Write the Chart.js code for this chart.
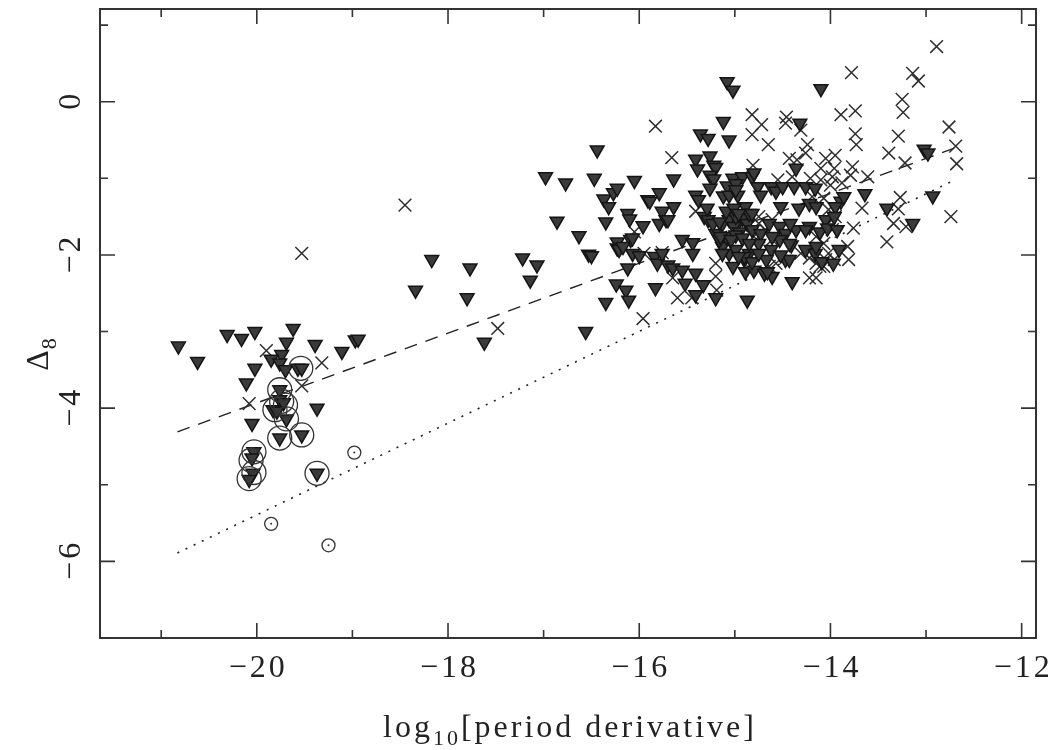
<!DOCTYPE html>
<html>
<head>
<meta charset="utf-8">
<script src="https://cdn.jsdelivr.net/npm/chart.js@4.4.0/dist/chart.umd.min.js"></script>
<style>
  html, body { margin: 0; padding: 0; background: #fff; }
</style>
</head>
<body>
<canvas id="myChart" width="1060" height="750"></canvas>
<script>
// downward triangles
const triangles = [
  [-20.82,-3.19],[-20.62,-3.39],[-20.31,-3.04],[-20.16,-3.09],[-20.02,-3.00],[-19.62,-2.96],[-19.69,-3.14],
  [-19.39,-3.17],[-19.11,-3.26],[-18.97,-3.11],[-18.94,-3.10],[-19.74,-3.30],[-19.85,-3.36],[-19.76,-3.41],
  [-19.70,-3.50],[-20.02,-3.48],[-19.57,-3.48],[-19.53,-3.48],[-20.11,-3.67],[-19.76,-3.76],[-19.76,-3.89],
  [-19.72,-3.93],[-19.83,-4.02],[-19.79,-4.04],[-19.69,-4.14],[-20.05,-4.20],[-19.37,-4.00],[-19.76,-4.39],
  [-19.53,-4.35],[-20.03,-4.57],[-20.05,-4.65],[-20.04,-4.85],[-20.08,-4.93],[-19.37,-4.85],
  [-16.44,-0.63],[-16.98,-0.98],[-16.77,-1.06],[-16.47,-1.00],[-16.37,-1.27],[-16.32,-1.37],[-16.27,-1.19],
  [-16.23,-1.13],[-16.86,-1.56],[-16.35,-1.57],[-16.63,-1.75],[-16.53,-1.99],[-16.50,-2.01],[-16.23,-1.83],
  [-16.23,-1.91],[-18.17,-2.06],[-17.77,-2.17],[-18.34,-2.46],[-17.80,-2.56],[-17.22,-2.04],[-17.07,-2.13],
  [-17.14,-2.33],[-16.35,-2.62],[-16.24,-2.38],[-16.56,-3.00],[-17.62,-3.14],
  [-15.08,0.26],[-15.02,0.15],[-14.10,0.17],[-15.12,-0.26],[-14.32,-0.28],[-15.36,-0.42],[-15.28,-0.48],
  [-15.06,-0.50],[-14.36,-0.87],[-15.41,-0.75],[-15.39,-0.88],[-15.26,-0.71],[-15.22,-0.83],[-15.20,-0.86],
  [-15.26,-0.96],[-15.22,-1.01],[-16.05,-1.03],[-15.64,-1.01],[-15.02,-1.00],[-14.92,-0.98],[-14.82,-0.98],
  [-14.80,-0.93],[-15.08,-1.10],[-14.99,-1.07],[-15.26,-1.13],[-15.41,-1.22],[-15.38,-1.28],[-15.12,-1.23],
  [-15.06,-1.22],[-14.97,-1.22],[-14.76,-1.11],[-14.73,-1.22],[-14.62,-1.11],[-14.57,-1.17],[-14.50,-1.11],
  [-14.38,-1.11],[-14.26,-1.11],[-14.16,-1.13],[-15.91,-1.28],[-15.89,-1.30],[-15.79,-1.19],[-15.76,-1.43],
  [-15.64,-1.37],[-16.12,-1.46],[-16.10,-1.53],[-15.96,-1.62],[-15.79,-1.59],[-15.72,-1.54],[-16.09,-1.80],
  [-16.21,-1.93],[-16.07,-1.98],[-16.00,-2.01],[-15.84,-2.02],[-15.81,-2.11],[-15.76,-1.98],[-16.12,-2.17],
  [-15.70,-2.13],[-15.65,-2.17],[-15.55,-2.20],[-15.55,-1.80],[-15.44,-1.84],[-15.44,-1.98],[-15.41,-2.24],
  [-16.14,-2.46],[-16.11,-2.59],[-15.83,-2.43],[-15.52,-2.37],[-15.33,-2.39],[-15.20,-2.56],[-14.87,-2.59],
  [-15.32,-1.50],[-15.28,-1.54],[-15.20,-1.72],[-15.13,-1.59],[-15.06,-1.54],[-14.99,-1.63],[-14.92,-1.52],
  [-14.87,-1.59],[-14.82,-1.67],[-14.73,-1.72],[-15.13,-1.89],[-15.06,-1.98],[-14.99,-1.93],[-15.09,-1.76],
  [-15.02,-2.15],[-14.90,-2.06],[-14.85,-1.98],[-14.89,-2.22],[-14.80,-2.20],[-14.69,-2.24],[-14.61,-2.28],
  [-14.66,-2.22],[-14.40,-2.35],[-14.64,-1.59],[-14.53,-1.63],[-14.47,-1.72],[-14.36,-1.67],[-14.53,-1.80],
  [-14.41,-1.87],[-14.52,-1.37],[-14.33,-1.39],[-14.22,-1.33],[-14.15,-1.37],[-14.75,-1.85],[-14.62,-1.93],
  [-14.67,-2.06],[-14.47,-2.06],[-14.61,-1.76],[-14.22,-1.63],[-14.11,-1.70],[-14.05,-1.54],[-14.26,-1.93],
  [-14.16,-1.98],[-14.09,-2.09],[-14.43,-2.06],[-14.42,-1.59],[-14.26,-1.67],[-14.43,-1.85],[-14.52,-2.00],
  [-14.15,-1.89],[-14.89,-1.37],[-14.85,-1.46],[-15.01,-1.63],[-14.95,-1.70],[-14.90,-2.02],[-14.99,-1.15],
  [-15.70,-1.54],[-15.29,-1.39],[-15.23,-1.59],[-15.16,-1.57],[-14.99,-1.50],[-15.16,-1.80],[-15.13,-1.98],
  [-14.99,-1.74],[-16.07,-1.78],[-16.17,-1.89],[-15.41,-2.52],[-14.03,-1.65],
  [-15.09,-1.43],[-15.01,-1.39],[-14.96,-1.46],[-14.82,-1.46],[-15.15,-1.76],[-15.04,-1.80],[-14.92,-1.78],
  [-14.85,-1.85],[-14.96,-2.02],[-14.82,-2.09],[-14.75,-1.98],
  [-13.02,-0.62],[-12.98,-0.67],[-13.64,-1.20],[-13.89,-1.30],[-13.86,-1.24],[-13.95,-1.37],[-13.41,-1.39],
  [-13.14,-1.59],[-12.93,-1.23],[-13.96,-1.50],[-13.93,-1.67],[-13.91,-1.93],[-13.97,-2.11]
];

// crosses
const crosses = [
  [-19.90,-3.25],[-19.32,-3.41],[-19.53,-3.71],[-20.08,-3.94],[-19.53,-1.98],[-18.45,-1.35],[-17.48,-2.96],
  [-15.83,-0.32],[-14.82,-0.17],[-14.72,-0.30],[-14.82,-0.43],[-14.65,-0.56],[-14.46,-0.20],[-14.47,-0.28],
  [-14.31,-0.37],[-14.24,-0.56],[-14.26,-0.67],[-14.43,-0.74],[-14.35,-0.76],[-14.10,-0.87],[-14.05,-0.74],
  [-15.66,-0.73],[-14.81,-0.83],[-14.55,-1.02],[-14.40,-0.98],[-14.21,-1.00],[-14.10,-1.02],[-16.05,-1.70],
  [-15.95,-1.98],[-15.76,-1.97],[-15.65,-2.30],[-15.60,-2.56],[-15.45,-2.56],[-15.96,-2.83],[-15.41,-1.43],
  [-15.20,-2.11],[-15.20,-2.28],[-15.19,-2.46],[-14.22,-2.30],[-14.15,-2.30],
  [-13.96,-0.87],[-14.00,-1.09],[-14.19,-1.24],[-14.07,-1.26],[-14.02,-1.41],[-13.95,-1.50],[-14.05,-1.59],
  [-13.98,-1.67],[-14.15,-1.76],[-14.07,-1.85],[-14.02,-1.98],[-13.96,-2.06],[-14.15,-2.11],[-14.07,-2.15],
  [-14.64,-2.15],[-14.57,-2.11],[-14.75,-1.76],[-14.61,-1.80],[-14.75,-1.50],[-14.61,-1.54],[-14.75,-1.59],
  [-14.68,-1.67],[-14.80,-1.76],[-14.31,-1.98],[-14.22,-2.04],[-14.11,-2.15],[-14.05,-2.06],
  [-13.78,0.38],[-13.14,0.37],[-13.08,0.27],[-13.25,0.03],[-13.24,-0.14],[-13.89,-0.17],[-13.74,-0.12],
  [-13.74,-0.42],[-13.73,-0.56],[-13.29,-0.45],[-13.39,-0.67],[-13.22,-0.80],[-12.76,-0.33],[-13.95,-0.70],
  [-13.77,-0.85],[-13.79,-0.96],[-13.61,-0.98],[-13.88,-1.06],[-13.98,-0.98],[-13.67,-1.39],[-13.27,-1.25],
  [-13.29,-1.40],[-13.34,-1.59],[-13.21,-1.63],[-13.41,-1.83],[-13.76,-1.65],[-13.82,-1.89],[-13.81,-2.06],
  [-12.89,0.72],[-12.69,-0.58],[-12.68,-0.81],[-12.74,-1.50]
];

// large open circles round some triangles
const rings = [
  [-19.54,-3.48],[-19.76,-3.76],[-19.74,-3.91],[-19.81,-4.02],[-19.70,-3.96],[-19.69,-4.14],[-19.76,-4.39],
  [-19.53,-4.35],[-20.03,-4.57],[-20.06,-4.68],[-20.03,-4.84],[-20.08,-4.92],[-19.37,-4.85]
];

// small dotted circles
const dotCircles = [[-18.98,-4.58],[-19.85,-5.51],[-19.25,-5.79]];

// fitted lines
const dashX = [-20.83, -12.69], dashY = [-4.31, -0.60];
const dotX = [-20.83, -12.73], dotY = [-5.89, -1.04];

const xTicks = [-20, -18, -16, -14, -12];
const yTicks = [0, -2, -4, -6];

const pts = arr => arr.map(p => ({x: p[0], y: p[1]}));
const zip = (xs, ys) => xs.map((v, i) => ({x: v, y: ys[i]}));
const fmt = v => v < 0 ? '\u2212' + Math.abs(v) : String(v);
const FONT = '"Liberation Serif", "DejaVu Serif", serif';

const framePlugin = {
  id: 'framePlugin',
  afterDraw(chart) {
    const {ctx, chartArea: a, scales: {x, y}} = chart;
    ctx.save();
    ctx.strokeStyle = '#333';
    ctx.lineWidth = 2;
    ctx.strokeRect(a.left, a.top, a.right - a.left, a.bottom - a.top);
    ctx.lineWidth = 1.6;
    ctx.beginPath();
    for (let v = Math.ceil(x.min); v <= x.max; v++) {
      const px = x.getPixelForValue(v);
      const len = v % 2 === 0 ? 15 : 8;
      ctx.moveTo(px, a.bottom); ctx.lineTo(px, a.bottom - len);
      ctx.moveTo(px, a.top); ctx.lineTo(px, a.top + len);
    }
    for (let v = Math.ceil(y.min); v <= y.max; v++) {
      const py = y.getPixelForValue(v);
      const len = v % 2 === 0 ? 15 : 8;
      ctx.moveTo(a.left, py); ctx.lineTo(a.left + len, py);
      ctx.moveTo(a.right, py); ctx.lineTo(a.right - len, py);
    }
    ctx.stroke();

    ctx.fillStyle = '#222';
    ctx.font = '32px ' + FONT;
    ctx.letterSpacing = '3px';
    ctx.textAlign = 'center';
    ctx.textBaseline = 'alphabetic';
    xTicks.forEach(v => ctx.fillText(fmt(v), x.getPixelForValue(v) + 1.5, 677));
    yTicks.forEach(v => {
      ctx.save();
      ctx.translate(80, y.getPixelForValue(v));
      ctx.rotate(-Math.PI / 2);
      ctx.fillText(fmt(v), 1.5, 0);
      ctx.restore();
    });

    // x title: log10[period derivative]
    const big = '32px ' + FONT, small = '22px ' + FONT;
    ctx.textAlign = 'left';
    ctx.letterSpacing = '3px';
    ctx.font = big; const w1 = ctx.measureText('log').width;
    ctx.font = small; const w2 = ctx.measureText('10').width;
    ctx.font = big; const w3 = ctx.measureText('[period derivative]').width;
    let sx = 570 - (w1 + w2 + w3) / 2;
    const by = 737;
    ctx.font = big; ctx.fillText('log', sx, by); sx += w1;
    ctx.font = small; ctx.fillText('10', sx, by + 8); sx += w2;
    ctx.font = big; ctx.fillText('[period derivative]', sx, by);

    // y title: Delta_8
    ctx.letterSpacing = '0px';
    ctx.save();
    ctx.translate(48, 355);
    ctx.rotate(-Math.PI / 2);
    ctx.font = big; const d = ctx.measureText('\u0394').width;
    ctx.font = small; const e = ctx.measureText('8').width;
    const tx = -(d + e) / 2;
    ctx.font = big; ctx.fillText('\u0394', tx, 0);
    ctx.font = small; ctx.fillText('8', tx + d + 1, 8);
    ctx.restore();
    ctx.restore();
  }
};

new Chart(document.getElementById('myChart'), {
  type: 'scatter',
  data: {
    datasets: [
      {
        label: 'dashed fit', data: zip(dashX, dashY), showLine: true, pointRadius: 0,
        borderColor: '#222', borderWidth: 1.4, borderDash: [13, 9], order: 5
      },
      {
        label: 'dotted fit', data: zip(dotX, dotY), showLine: true, pointRadius: 0,
        borderColor: '#222', borderWidth: 1.6, borderDash: [2, 7], order: 5
      },
      {
        label: 'crosses', data: pts(crosses), pointStyle: 'crossRot', pointRadius: 9,
        borderColor: '#2e2e2e', borderWidth: 1.5, order: 3
      },
      {
        label: 'triangles', data: pts(triangles), pointStyle: 'triangle', rotation: 180, pointRadius: 8,
        backgroundColor: '#3a3a3a', borderColor: '#141414', borderWidth: 1.5, order: 2
      },
      {
        label: 'rings', data: pts(rings), pointStyle: 'circle', pointRadius: 12,
        backgroundColor: 'rgba(0,0,0,0)', borderColor: '#333', borderWidth: 1.3, order: 1
      },
      {
        label: 'dot circles', data: pts(dotCircles), pointStyle: 'circle', pointRadius: 6.5,
        backgroundColor: 'rgba(0,0,0,0)', borderColor: '#333', borderWidth: 1.3, order: 1
      },
      {
        label: 'dot centres', data: pts(dotCircles), pointStyle: 'circle', pointRadius: 1,
        backgroundColor: '#333', borderColor: '#333', borderWidth: 0, order: 1
      }
    ]
  },
  options: {
    responsive: false,
    animation: false,
    events: [],
    layout: { autoPadding: false, padding: { left: 100, right: 24, top: 9, bottom: 112 } },
    plugins: { legend: { display: false }, tooltip: { enabled: false } },
    scales: {
      x: {
        type: 'linear', min: -21.64, max: -11.85,
        ticks: { display: false }, grid: { display: false, drawTicks: false }, border: { display: false }
      },
      y: {
        type: 'linear', min: -7, max: 1.21,
        ticks: { display: false }, grid: { display: false, drawTicks: false }, border: { display: false }
      }
    }
  },
  plugins: [framePlugin]
});
</script>
</body>
</html>
